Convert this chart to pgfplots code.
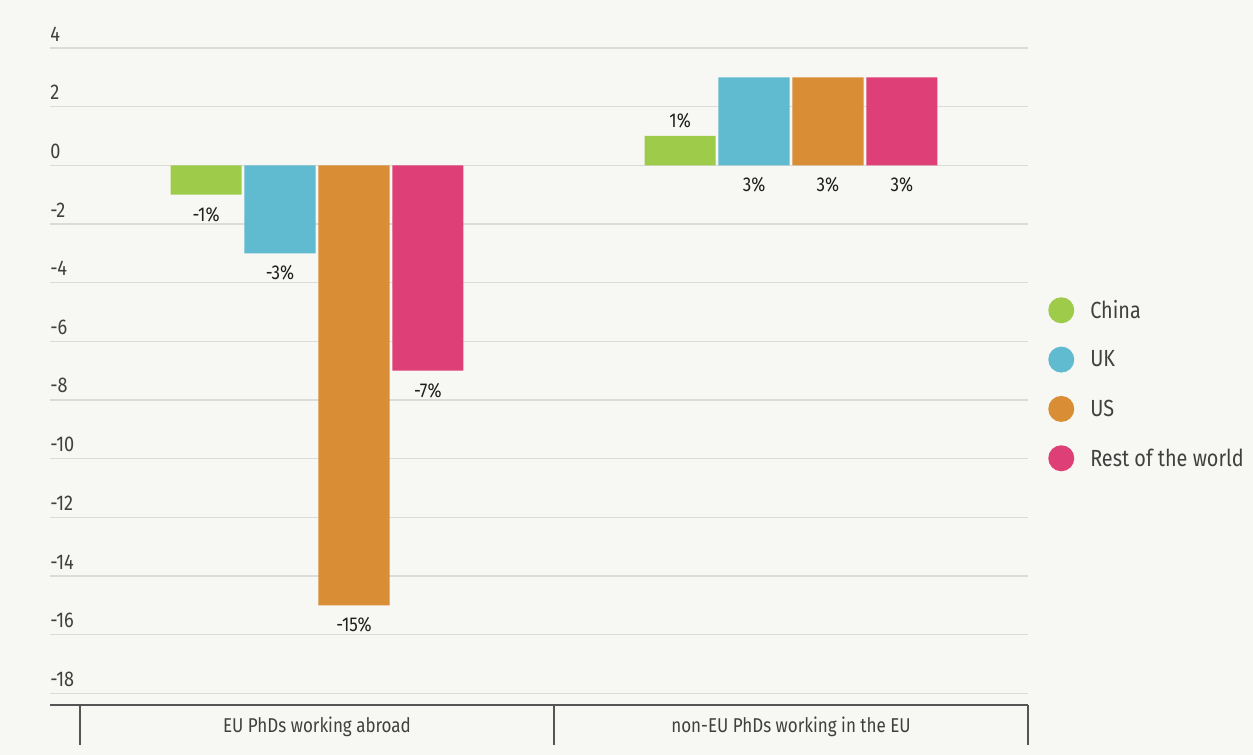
\documentclass[border=0pt]{standalone}
\usepackage{pgfplots}
\pgfplotsset{compat=1.18}
\usepackage{fontspec}
\setmainfont{Fira Sans}[FakeStretch=0.85]
\definecolor{bg}{HTML}{F7F7F3}
\definecolor{gridc}{HTML}{DCDCD7}
\definecolor{axc}{HTML}{555555}
\definecolor{tickc}{HTML}{404040}
\definecolor{lblc}{HTML}{1E1E1E}
\definecolor{cchina}{HTML}{9ECB4A}
\definecolor{cuk}{HTML}{61BBD0}
\definecolor{cus}{HTML}{D98D35}
\definecolor{crow}{HTML}{DE3F77}
\tikzset{
  lneg/.style={anchor=north, inner sep=0pt, yshift=-9pt, text=lblc, font=\fontsize{15}{18}\selectfont},
  lpos/.style={anchor=south, inner sep=0pt, yshift=6pt, text=lblc, font=\fontsize{15}{18}\selectfont},
}
\begin{document}
\begin{tikzpicture}
\fill[bg] (0pt,0pt) rectangle (939.75pt,566.25pt);
\begin{axis}[
  at={(37.5pt,37.5pt)}, anchor=south west,
  scale only axis, width=733.5pt, height=492.75pt,
  xmin=-0.5633, xmax=1.5, ymin=-18.4, ymax=4,
  axis line style={draw=none},
  clip=false,
  major tick length=0pt,
  ytick={-18,-16,-14,-12,-10,-8,-6,-4,-2,0,2,4},
  yticklabels={-18,-16,-14,-12,-10,-8,-6,-4,-2,0,2,4},
  ymajorgrids, grid style={color=gridc, line width=1.1pt},
  yticklabel style={anchor=south west, inner sep=0pt, xshift=0pt, yshift=5pt, font=\fontsize{16}{19}\selectfont, text=tickc},
  xtick={0,1},
  xticklabels={EU PhDs working abroad, non-EU PhDs working in the EU},
  xticklabel style={anchor=north, inner sep=0pt, yshift=-9pt, font=\fontsize{15}{18}\selectfont, text=tickc},
  ybar, bar width=0.15, bar shift=0pt,
  legend image code/.code={\fill[#1] (0pt,0pt) circle (9.75pt);},
  legend cell align=left,
  legend style={draw=none, fill=none, at={(1,0.621)}, anchor=north west, xshift=15pt,
    font=\fontsize{17.5}{20}\selectfont, text=tickc, row sep=17.5pt, inner sep=0pt,
    /tikz/every odd column/.append style={column sep=10pt}},
]
\addplot[fill=cchina, draw=none] coordinates {(-0.234,-1) (0.766,1)};
\addplot[fill=cuk, draw=none] coordinates {(-0.078,-3) (0.922,3)};
\addplot[fill=cus, draw=none] coordinates {(0.078,-15) (1.078,3)};
\addplot[fill=crow, draw=none] coordinates {(0.234,-7) (1.234,3)};
\legend{China,UK,US,Rest of the world}
\node[lneg] at (axis cs:-0.234,-1) {-1\%};
\node[lneg] at (axis cs:-0.078,-3) {-3\%};
\node[lneg] at (axis cs:0.078,-15) {-15\%};
\node[lneg] at (axis cs:0.234,-7) {-7\%};
\node[lpos] at (axis cs:0.766,1) {1\%};
\node[lneg] at (axis cs:0.922,0) {3\%};
\node[lneg] at (axis cs:1.078,0) {3\%};
\node[lneg] at (axis cs:1.234,0) {3\%};
\draw[axc, line width=2pt] (rel axis cs:0,0) -- (rel axis cs:1,0);
\draw[axc, line width=1.1pt] (axis cs:-0.5,-18.4) -- ++(0pt,-30pt);
\draw[axc, line width=1.1pt] (axis cs:0.5,-18.4) -- ++(0pt,-30pt);
\draw[axc, line width=1.1pt] (axis cs:1.5,-18.4) -- ++(0pt,-30pt);
\end{axis}
\end{tikzpicture}
\end{document}
